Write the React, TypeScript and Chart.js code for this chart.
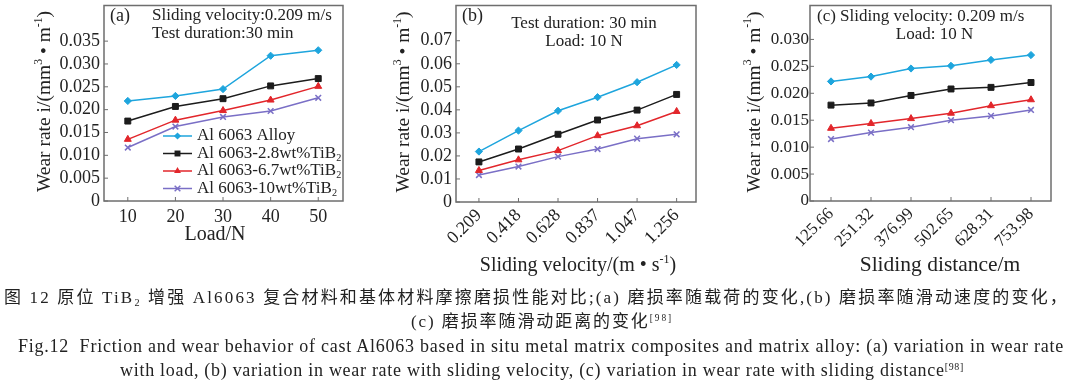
import React, { useEffect, useLayoutEffect, useRef } from 'react';
import { Chart, registerables } from 'chart.js';

Chart.register(...registerables);

// ---------------- data ----------------
const SERIES_LABELS = ['Al 6063 Alloy', 'Al 6063-2.8wt%TiB2', 'Al 6063-6.7wt%TiB2', 'Al 6063-10wt%TiB2'];

// (a) wear rate vs load
const LOAD_N = [10, 20, 30, 40, 50];
const LOAD_LABELS = ['10', '20', '30', '40', '50'];
const LOAD_ALLOY = [0.0219, 0.023, 0.0245, 0.0318, 0.033];
const LOAD_TIB2_28 = [0.0175, 0.0207, 0.0224, 0.0252, 0.0268];
const LOAD_TIB2_67 = [0.0135, 0.0177, 0.0198, 0.0221, 0.0251];
const LOAD_TIB2_10 = [0.0117, 0.0163, 0.0184, 0.0197, 0.0226];

// (b) wear rate vs sliding velocity
const VELOCITY_LABELS = ['0.209', '0.418', '0.628', '0.837', '1.047', '1.256'];
const VEL_ALLOY = [0.0219, 0.031, 0.0396, 0.0455, 0.052, 0.0595];
const VEL_TIB2_28 = [0.0174, 0.023, 0.0294, 0.0356, 0.0399, 0.0467];
const VEL_TIB2_67 = [0.0137, 0.0183, 0.0223, 0.0288, 0.0331, 0.0393];
const VEL_TIB2_10 = [0.0117, 0.0154, 0.0197, 0.023, 0.0275, 0.0294];

// (c) wear rate vs sliding distance
const DISTANCE_LABELS = ['125.66', '251.32', '376.99', '502.65', '628.31', '753.98'];
const DIST_ALLOY = [0.0222, 0.0231, 0.0246, 0.0251, 0.0262, 0.0271];
const DIST_TIB2_28 = [0.0178, 0.0182, 0.0196, 0.0208, 0.0211, 0.022];
const DIST_TIB2_67 = [0.0135, 0.0144, 0.0153, 0.0163, 0.0177, 0.0188];
const DIST_TIB2_10 = [0.0115, 0.0127, 0.0137, 0.015, 0.0158, 0.0169];

const Y_TICKS_A = [0, 0.005, 0.01, 0.015, 0.02, 0.025, 0.03, 0.035];
const Y_TICKS_B = [0, 0.01, 0.02, 0.03, 0.04, 0.05, 0.06, 0.07];
const Y_TICKS_C = [0, 0.005, 0.01, 0.015, 0.02, 0.025, 0.03];

// ---------------- style ----------------
const COLORS = ['#1ea5dd', '#1c1c1c', '#e2262b', '#7a6fc6'];
const MARKERS = ['rectRot', 'rect', 'triangle', 'crossRot'];
const RADII = [3.6, 4.2, 4.0, 4.0];
const SERIF = '"Liberation Serif", "Times New Roman", serif';
const TEXT = '#222';
const W = 1080;
const H = 388;

type Run = { t: string; s?: 'sup' | 'sub' };
type Box = { left: number; top: number; right: number; bottom: number };

function drawRich(
  ctx: CanvasRenderingContext2D,
  runs: Run[],
  x: number,
  y: number,
  size: number,
  align: 'left' | 'center' = 'left',
  rotate = 0
) {
  ctx.save();
  ctx.translate(x, y);
  ctx.rotate(rotate);
  ctx.fillStyle = TEXT;
  ctx.textBaseline = 'middle';
  ctx.textAlign = 'left';
  let total = 0;
  const widths = runs.map((r) => {
    ctx.font = `${r.s ? size * 0.6 : size}px ${SERIF}`;
    const w = ctx.measureText(r.t).width;
    total += w;
    return w;
  });
  let cx = align === 'center' ? -total / 2 : 0;
  runs.forEach((r, i) => {
    ctx.font = `${r.s ? size * 0.6 : size}px ${SERIF}`;
    const dy = r.s === 'sup' ? -size * 0.33 : r.s === 'sub' ? size * 0.28 : 0;
    ctx.fillText(r.t, cx, dy);
    cx += widths[i];
  });
  ctx.restore();
}

function labelRuns(label: string): Run[] {
  if (label.endsWith('TiB2')) return [{ t: label.slice(0, -1) }, { t: '2', s: 'sub' }];
  return [{ t: label }];
}

function drawMarker(ctx: CanvasRenderingContext2D, style: string, x: number, y: number, r: number, color: string) {
  ctx.save();
  ctx.fillStyle = color;
  ctx.strokeStyle = color;
  ctx.lineWidth = 1.5;
  ctx.beginPath();
  if (style === 'rectRot') {
    ctx.moveTo(x, y - r);
    ctx.lineTo(x + r, y);
    ctx.lineTo(x, y + r);
    ctx.lineTo(x - r, y);
    ctx.closePath();
    ctx.fill();
  } else if (style === 'rect') {
    const s = r * Math.SQRT1_2;
    ctx.rect(x - s, y - s, 2 * s, 2 * s);
    ctx.fill();
  } else if (style === 'triangle') {
    for (let k = 0; k < 3; k++) {
      const a = -Math.PI / 2 + (k * 2 * Math.PI) / 3;
      const px = x + Math.cos(a) * r;
      const py = y + Math.sin(a) * r;
      if (k === 0) ctx.moveTo(px, py);
      else ctx.lineTo(px, py);
    }
    ctx.closePath();
    ctx.fill();
  } else {
    const o = r * Math.SQRT1_2;
    ctx.moveTo(x - o, y - o);
    ctx.lineTo(x + o, y + o);
    ctx.moveTo(x - o, y + o);
    ctx.lineTo(x + o, y - o);
    ctx.stroke();
  }
  ctx.restore();
}

const yTitleRuns: Run[] = [{ t: 'Wear rate i/(mm' }, { t: '3', s: 'sup' }, { t: ' \u2022 m' }, { t: '-1', s: 'sup' }, { t: ')' }];

interface PanelOpts {
  box: Box;
  xs: number[];
  xLabels: string[];
  xMin: number;
  xMax: number;
  rotate: number;
  yTicks: number[];
  yMax: number;
  yDigits: number;
  series: number[][];
  tickFont: number;
  xPad: number;
  yPad: number;
  legend?: boolean;
  texts: (ctx: CanvasRenderingContext2D) => void;
}

function buildChart(canvas: HTMLCanvasElement, o: PanelOpts) {
  const yW = 70;
  const xH = 60;
  return new Chart(canvas, {
    type: 'line',
    data: {
      datasets: o.series.map((s, i) => ({
        label: SERIES_LABELS[i],
        data: s.map((v, j) => ({ x: o.xs[j], y: v })),
        borderColor: COLORS[i],
        backgroundColor: COLORS[i],
        borderWidth: 1.5,
        pointStyle: MARKERS[i] as any,
        pointRadius: RADII[i],
        pointBorderWidth: i === 3 ? 1.5 : 1,
        pointBackgroundColor: COLORS[i],
        pointBorderColor: COLORS[i],
        tension: 0,
        fill: false,
      })),
    },
    options: {
      animation: false,
      responsive: false,
      maintainAspectRatio: false,
      events: [],
      layout: {
        padding: {
          left: o.box.left - yW,
          top: o.box.top,
          right: W - o.box.right,
          bottom: H - o.box.bottom - xH,
        },
      },
      plugins: { legend: { display: false }, tooltip: { enabled: false }, title: { display: false } },
      scales: {
        x: {
          type: 'linear',
          min: o.xMin,
          max: o.xMax,
          grid: { display: false, drawTicks: false },
          border: { display: false },
          afterBuildTicks: (s: any) => {
            s.ticks = o.xs.map((v) => ({ value: v }));
          },
          afterFit: (s: any) => {
            s.height = xH;
            s.paddingLeft = 0;
            s.paddingRight = 0;
            s.paddingTop = 0;
            s.paddingBottom = 0;
          },
          ticks: {
            autoSkip: false,
            minRotation: o.rotate,
            maxRotation: o.rotate,
            padding: o.xPad,
            color: TEXT,
            font: { family: SERIF, size: o.tickFont },
            callback: (_v: any, i: number) => o.xLabels[i],
          },
        },
        y: {
          type: 'linear',
          min: 0,
          max: o.yMax,
          grid: { display: false, drawTicks: false },
          border: { display: false },
          afterBuildTicks: (s: any) => {
            s.ticks = o.yTicks.map((v) => ({ value: v }));
          },
          afterFit: (s: any) => {
            s.width = yW;
            s.paddingLeft = 0;
            s.paddingRight = 0;
            s.paddingTop = 0;
            s.paddingBottom = 0;
          },
          ticks: {
            padding: o.yPad,
            color: TEXT,
            font: { family: SERIF, size: o.tickFont },
            callback: (v: any) => (Number(v) === 0 ? '0' : Number(v).toFixed(o.yDigits)),
          },
        },
      },
    } as any,
    plugins: [
      {
        id: 'decor',
        afterDraw(chart: any) {
          const { ctx, chartArea: a, scales } = chart;
          ctx.save();
          ctx.strokeStyle = '#6e6e6e';
          ctx.lineWidth = 1.5;
          ctx.strokeRect(a.left, a.top, a.right - a.left, a.bottom - a.top);
          ctx.lineWidth = 1;
          ctx.beginPath();
          for (const t of scales.x.ticks) {
            const px = scales.x.getPixelForValue(t.value);
            ctx.moveTo(px, a.bottom);
            ctx.lineTo(px, a.bottom - 4);
          }
          for (const t of scales.y.ticks) {
            const py = scales.y.getPixelForValue(t.value);
            ctx.moveTo(a.left, py);
            ctx.lineTo(a.left + 4, py);
          }
          ctx.stroke();
          if (o.legend) {
            const rows = [136, 153.5, 171, 188.5];
            chart.data.datasets.forEach((ds: any, i: number) => {
              const y = rows[i];
              ctx.strokeStyle = ds.borderColor;
              ctx.lineWidth = 1.5;
              ctx.beginPath();
              ctx.moveTo(163, y);
              ctx.lineTo(192, y);
              ctx.stroke();
              drawMarker(ctx, ds.pointStyle, 177.5, y, ds.pointRadius, ds.borderColor);
              drawRich(ctx, labelRuns(ds.label), 197, y, 17);
            });
          }
          o.texts(ctx);
          ctx.restore();
        },
      },
    ],
  });
}

const IDX6 = [0, 1, 2, 3, 4, 5];

export default function App() {
  const refA = useRef<HTMLCanvasElement>(null);
  const refB = useRef<HTMLCanvasElement>(null);
  const refC = useRef<HTMLCanvasElement>(null);
  const capRefs = useRef<(HTMLDivElement | null)[]>([]);

  useEffect(() => {
    const charts: Chart[] = [];
    charts.push(
      buildChart(refA.current!, {
        box: { left: 104, top: 3, right: 343, bottom: 201 },
        xs: LOAD_N,
        xLabels: LOAD_LABELS,
        xMin: 5,
        xMax: 55.2,
        rotate: 0,
        yTicks: Y_TICKS_A,
        yMax: 0.0428,
        yDigits: 3,
        series: [LOAD_ALLOY, LOAD_TIB2_28, LOAD_TIB2_67, LOAD_TIB2_10],
        tickFont: 18,
        xPad: 5,
        yPad: 4,
        legend: true,
        texts: (ctx) => {
          drawRich(ctx, [{ t: '(a)' }], 110, 16, 18);
          drawRich(ctx, [{ t: 'Sliding velocity:0.209 m/s' }], 152, 16, 17);
          drawRich(ctx, [{ t: 'Test duration:30 min' }], 152, 33.5, 17);
          drawRich(ctx, yTitleRuns, 45, 101.5, 19.5, 'center', -Math.PI / 2);
          drawRich(ctx, [{ t: 'Load/N' }], 215, 235, 20, 'center');
        },
      })
    );
    charts.push(
      buildChart(refB.current!, {
        box: { left: 456, top: 4, right: 696, bottom: 202 },
        xs: IDX6,
        xLabels: VELOCITY_LABELS,
        xMin: -0.58,
        xMax: 5.49,
        rotate: 45,
        yTicks: Y_TICKS_B,
        yMax: 0.0853,
        yDigits: 2,
        series: [VEL_ALLOY, VEL_TIB2_28, VEL_TIB2_67, VEL_TIB2_10],
        tickFont: 18,
        xPad: 3,
        yPad: 4,
        texts: (ctx) => {
          drawRich(ctx, [{ t: '(b)' }], 462, 16, 18);
          drawRich(ctx, [{ t: 'Test duration: 30 min' }], 584, 24, 17, 'center');
          drawRich(ctx, [{ t: 'Load: 10 N' }], 584, 42, 17, 'center');
          drawRich(ctx, yTitleRuns, 404, 102, 19.5, 'center', -Math.PI / 2);
          drawRich(ctx, [{ t: 'Sliding velocity/(m \u2022 s' }, { t: '-1', s: 'sup' }, { t: ')' }], 578, 266, 20, 'center');
        },
      })
    );
    charts.push(
      buildChart(refC.current!, {
        box: { left: 810, top: 4, right: 1051, bottom: 201 },
        xs: IDX6,
        xLabels: DISTANCE_LABELS,
        xMin: -0.525,
        xMax: 5.5,
        rotate: 45,
        yTicks: Y_TICKS_C,
        yMax: 0.0363,
        yDigits: 3,
        series: [DIST_ALLOY, DIST_TIB2_28, DIST_TIB2_67, DIST_TIB2_10],
        tickFont: 17,
        xPad: 3,
        yPad: 1,
        texts: (ctx) => {
          drawRich(ctx, [{ t: '(c) Sliding velocity: 0.209 m/s' }], 817, 17, 17);
          drawRich(ctx, [{ t: 'Load: 10 N' }], 934.5, 35, 17, 'center');
          drawRich(ctx, yTitleRuns, 754.5, 102, 19.5, 'center', -Math.PI / 2);
          drawRich(ctx, [{ t: 'Sliding distance/m' }], 940, 265, 21.5, 'center');
        },
      })
    );
    return () => charts.forEach((c) => c.destroy());
  }, []);

  const captionTargets = [1065, 262, 1046, 844];

  useLayoutEffect(() => {
    capRefs.current.forEach((el, i) => {
      if (!el) return;
      el.style.letterSpacing = '0px';
      const w = el.getBoundingClientRect().width;
      const n = (el.textContent || '').length;
      el.style.letterSpacing = `${(captionTargets[i] - w) / n}px`;
    });
  }, []);

  const capStyle = (left: number, cy: number, size: number): React.CSSProperties => ({
    position: 'absolute',
    left,
    top: cy - 11,
    height: 22,
    lineHeight: '22px',
    whiteSpace: 'nowrap',
    fontSize: size,
    color: TEXT,
    fontFamily: '"Liberation Serif", "Noto Sans CJK SC", serif',
  });
  const subS: React.CSSProperties = { fontSize: '60%', verticalAlign: '-0.25em', lineHeight: 0 };
  const supS: React.CSSProperties = { fontSize: '55%', verticalAlign: '0.6em', lineHeight: 0 };

  const canvasStyle: React.CSSProperties = { position: 'absolute', left: 0, top: 0, width: W, height: H };

  return (
    <div style={{ position: 'absolute', left: 0, top: 0, width: W, height: H, background: '#fff', overflow: 'hidden' }}>
      <canvas ref={refA} width={W} height={H} style={canvasStyle} />
      <canvas ref={refB} width={W} height={H} style={canvasStyle} />
      <canvas ref={refC} width={W} height={H} style={canvasStyle} />
      <div ref={(el) => { capRefs.current[0] = el; }} style={capStyle(4, 298, 17)}>
        图 12 原位 TiB<span style={subS}>2</span> 增强 Al6063 复合材料和基体材料摩擦磨损性能对比;(a) 磨损率随载荷的变化,(b) 磨损率随滑动速度的变化，
      </div>
      <div ref={(el) => { capRefs.current[1] = el; }} style={capStyle(411, 322, 17)}>
        (c) 磨损率随滑动距离的变化<span style={supS}>[98]</span>
      </div>
      <div ref={(el) => { capRefs.current[2] = el; }} style={capStyle(18, 346, 18)}>
        Fig.12&nbsp; Friction and wear behavior of cast Al6063 based in situ metal matrix composites and matrix alloy: (a) variation in wear rate
      </div>
      <div ref={(el) => { capRefs.current[3] = el; }} style={capStyle(120, 370, 18)}>
        with load, (b) variation in wear rate with sliding velocity, (c) variation in wear rate with sliding distance<span style={supS}>[98]</span>
      </div>
    </div>
  );
}
